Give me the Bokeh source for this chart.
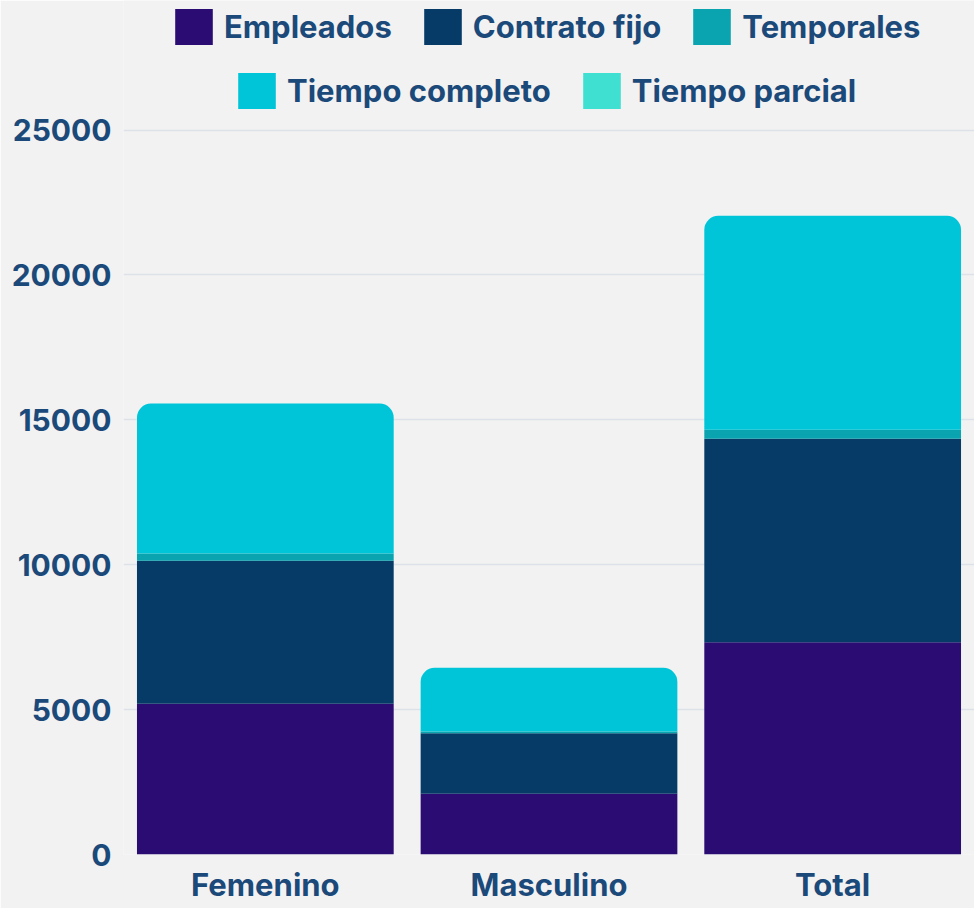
from bokeh.plotting import figure
from bokeh.models import Range1d, FactorRange, FixedTicker, Legend, LegendItem, NumeralTickFormatter
from bokeh.embed import file_html
from bokeh.resources import INLINE

categories = ["Femenino", "Masculino", "Total"]
series = ["Empleados", "Contrato fijo", "Temporales", "Tiempo completo", "Tiempo parcial"]
empleados = [5200, 2100, 7320]
contrato_fijo = [4940, 2080, 7030]
temporales = [250, 60, 310]
tiempo_completo = [5170, 2200, 7380]
tiempo_parcial = [0, 0, 0]
y_ticks = [0, 5000, 10000, 15000, 20000, 25000]
colors = ["#2a0c72", "#063b68", "#0aa3b0", "#00c5d8", "#3fe0d2"]

TEXT = "#1b4a7a"
BG = "#f2f2f2"
FONT = "Inter"

# layout (pixels)
W, H = 974, 908
LEFT, BOTTOM = 123, 54
FRAME_H = H - BOTTOM
PX_TOP_TICK = 129.5          # pixel row of the top tick in the figure
Y_MAX = y_ticks[-1] * FRAME_H / (FRAME_H - PX_TOP_TICK)

data = {"cat": categories,
        "Empleados": empleados,
        "Contrato fijo": contrato_fijo,
        "Temporales": temporales,
        "Tiempo completo": tiempo_completo,
        "Tiempo parcial": tiempo_parcial}

p = figure(x_range=FactorRange(*categories), y_range=Range1d(0, Y_MAX),
           width=W, height=H, output_backend="svg", toolbar_location=None,
           min_border_left=LEFT, min_border_right=0, min_border_top=0, min_border_bottom=BOTTOM,
           background_fill_color=BG, border_fill_color=BG, outline_line_color=None)

rs = p.vbar_stack(series, x="cat", width=0.905, source=data, color=colors, line_color=None)
rs[3].glyph.border_radius = (14, 14, 0, 0)
rs[4].glyph.border_radius = (14, 14, 0, 0)

p.yaxis.ticker = FixedTicker(ticks=y_ticks)
p.yaxis.formatter = NumeralTickFormatter(format="0")
for ax in (p.xaxis, p.yaxis):
    ax.axis_line_color = None
    ax.major_tick_line_color = None
    ax.minor_tick_line_color = None
    ax.major_tick_out = 0
    ax.major_tick_in = 0
    ax.major_label_text_font = FONT
    ax.major_label_text_font_style = "bold"
    ax.major_label_text_color = TEXT
p.yaxis.major_label_text_font_size = "30px"
p.xaxis.major_label_text_font_size = "31px"
p.yaxis.major_label_standoff = 12
p.xaxis.major_label_standoff = 11

p.xgrid.grid_line_color = None
p.ygrid.grid_line_color = "#dde1e8"
p.ygrid.grid_line_width = 1.5

def make_legend(idx, loc):
    items = [LegendItem(label=series[i], renderers=[rs[i]]) for i in idx]
    lg = Legend(items=items, orientation="horizontal", location=loc,
                glyph_width=47, glyph_height=45, label_standoff=7, spacing=27,
                label_text_font=FONT, label_text_font_style="bold",
                label_text_font_size="31px", label_text_color=TEXT,
                border_line_color=None, background_fill_alpha=0,
                padding=0, margin=0)
    return lg

leg1 = make_legend([0, 1, 2], (170 - LEFT, FRAME_H - 49))
leg2 = make_legend([3, 4], (233 - LEFT, FRAME_H - 113))
p.add_layout(leg1)
p.add_layout(leg2)

open("out.html", "w").write(file_html(p, INLINE))
